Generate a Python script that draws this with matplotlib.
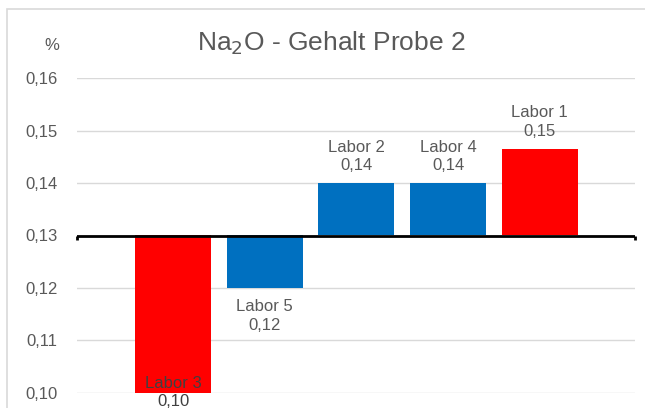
import matplotlib.pyplot as plt
from matplotlib.patches import Rectangle

# Daten
labore = ['Labor 3', 'Labor 5', 'Labor 2', 'Labor 4', 'Labor 1']
werte = [0.100, 0.120, 0.140, 0.140, 0.1466]
anzeige = ['0,10', '0,12', '0,14', '0,14', '0,15']
farben = ['#FF0000', '#0070C0', '#0070C0', '#0070C0', '#FF0000']
basis = 0.13
yticks = [0.10, 0.11, 0.12, 0.13, 0.14, 0.15, 0.16]

plt.rcParams['font.family'] = ['Liberation Sans', 'DejaVu Sans']
textfarbe = '#595959'

fig = plt.figure(figsize=(6.45, 4.08), dpi=100)
ax = fig.add_axes([77 / 645, 1 - 392.7 / 408, (635 - 77) / 645, (392.7 - 78.3) / 408])

# Rahmen um das Diagramm
fig.patches.append(Rectangle((7 / 645, -0.1), 1.2, 1 - 9 / 408 + 0.1,
                             transform=fig.transFigure, fill=False,
                             edgecolor='#D9D9D9', lw=1.2))

x = list(range(len(labore)))
hoehen = [w - basis for w in werte]
ax.bar(x, hoehen, bottom=basis, width=0.83, color=farben, zorder=2)

ax.set_ylim(0.10, 0.16)
ax.set_xlim(-1.05, 5.04)
ax.set_yticks(yticks)
ax.set_yticklabels([f'{t:.2f}'.replace('.', ',') for t in yticks])
ax.tick_params(axis='y', length=0, labelsize=12, labelcolor=textfarbe, pad=14)
ax.set_xticks([])
for s in ax.spines.values():
    s.set_visible(False)
ax.grid(axis='y', color='#D9D9D9', lw=1, zorder=0)

# Achse bei 0,13
ax.axhline(basis, color='black', lw=2, zorder=3)
ax.plot([-1.05, -1.05], [basis, basis - 0.0009], color='black', lw=2, zorder=3,
        clip_on=False, solid_capstyle='butt')
ax.plot([5.04, 5.04], [basis, basis - 0.0009], color='black', lw=2, zorder=3,
        clip_on=False, solid_capstyle='butt')

# Beschriftungen
for xi, w, lab, txt in zip(x, werte, labore, anzeige):
    s = f'{lab}\n{txt}'
    if w <= 0.10:
        ax.annotate(s, (xi, w), ha='center', va='center', fontsize=12,
                    color='#404040', annotation_clip=False, linespacing=1.3)
    elif w < basis:
        ax.annotate(s, (xi, w), xytext=(0, -8), textcoords='offset points',
                    ha='center', va='top', fontsize=12, color=textfarbe,
                    linespacing=1.3)
    else:
        ax.annotate(s, (xi, w), xytext=(0, 7), textcoords='offset points',
                    ha='center', va='bottom', fontsize=12, color=textfarbe,
                    linespacing=1.3)

fig.text(331 / 645, 1 - 43 / 408, 'Na$_2$O - Gehalt Probe 2', ha='center', va='center',
         fontsize=19, color=textfarbe)
fig.text(52 / 645, 1 - 45 / 408, '%', ha='center', va='center', fontsize=12,
         color=textfarbe)

fig.savefig('out.png', dpi=100)
